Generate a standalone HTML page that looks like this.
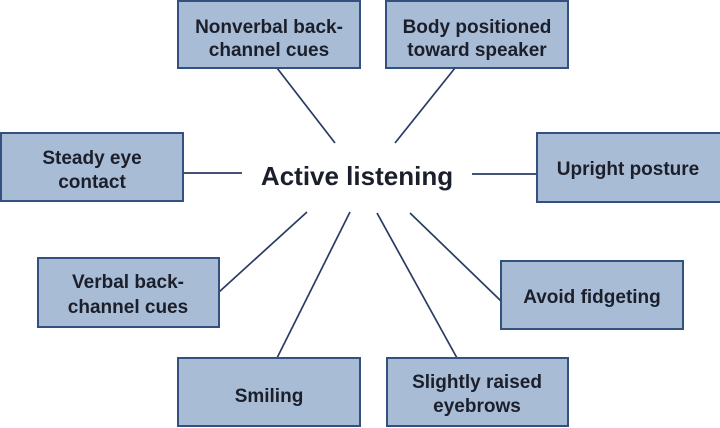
<!DOCTYPE html>
<html><head><meta charset="utf-8"><style>
html,body{margin:0;padding:0;background:#fff;}
svg{display:block;}
text{font-family:"Liberation Sans",sans-serif;font-weight:bold;fill:#1b1f2b;text-anchor:middle;}
.b{fill:#a9bcd5;stroke:#34507f;stroke-width:2;}
.l{stroke:#2a3a64;stroke-width:1.7;fill:none;}
.t{font-size:19px;}
</style></head><body>
<svg width="720" height="428" viewBox="0 0 720 428" xmlns="http://www.w3.org/2000/svg">
<rect width="720" height="428" fill="#fff"/>
<line class="l" x1="277" y1="68" x2="335" y2="143"/>
<line class="l" x1="455" y1="68" x2="395" y2="143"/>
<line class="l" x1="183" y1="173" x2="242" y2="173"/>
<line class="l" x1="472" y1="174" x2="536" y2="174"/>
<line class="l" x1="307" y1="212" x2="219" y2="292"/>
<line class="l" x1="350" y1="212" x2="277" y2="358"/>
<line class="l" x1="377" y1="213" x2="457" y2="358"/>
<line class="l" x1="410" y1="213" x2="501" y2="301"/>

<rect class="b" x="178" y="1" width="182" height="67"/>
<text class="t" x="269" y="33">Nonverbal back-</text>
<text class="t" x="269" y="56">channel cues</text>

<rect class="b" x="386" y="1" width="182" height="67"/>
<text class="t" x="477" y="33">Body positioned</text>
<text class="t" x="477" y="56">toward speaker</text>

<rect class="b" x="1" y="133" width="182" height="68"/>
<text class="t" x="92" y="164">Steady eye</text>
<text class="t" x="92" y="188">contact</text>

<rect class="b" x="537" y="133" width="184" height="69"/>
<text class="t" x="628" y="175">Upright posture</text>

<text x="357" y="185" style="font-size:26px">Active listening</text>

<rect class="b" x="38" y="258" width="181" height="69"/>
<text class="t" x="128" y="288">Verbal back-</text>
<text class="t" x="128" y="313">channel cues</text>

<rect class="b" x="501" y="261" width="182" height="68"/>
<text class="t" x="592" y="303">Avoid fidgeting</text>

<rect class="b" x="178" y="358" width="182" height="68"/>
<text class="t" x="269" y="402">Smiling</text>

<rect class="b" x="387" y="358" width="181" height="68"/>
<text class="t" x="477" y="388">Slightly raised</text>
<text class="t" x="477" y="412">eyebrows</text>
</svg>
</body></html>
